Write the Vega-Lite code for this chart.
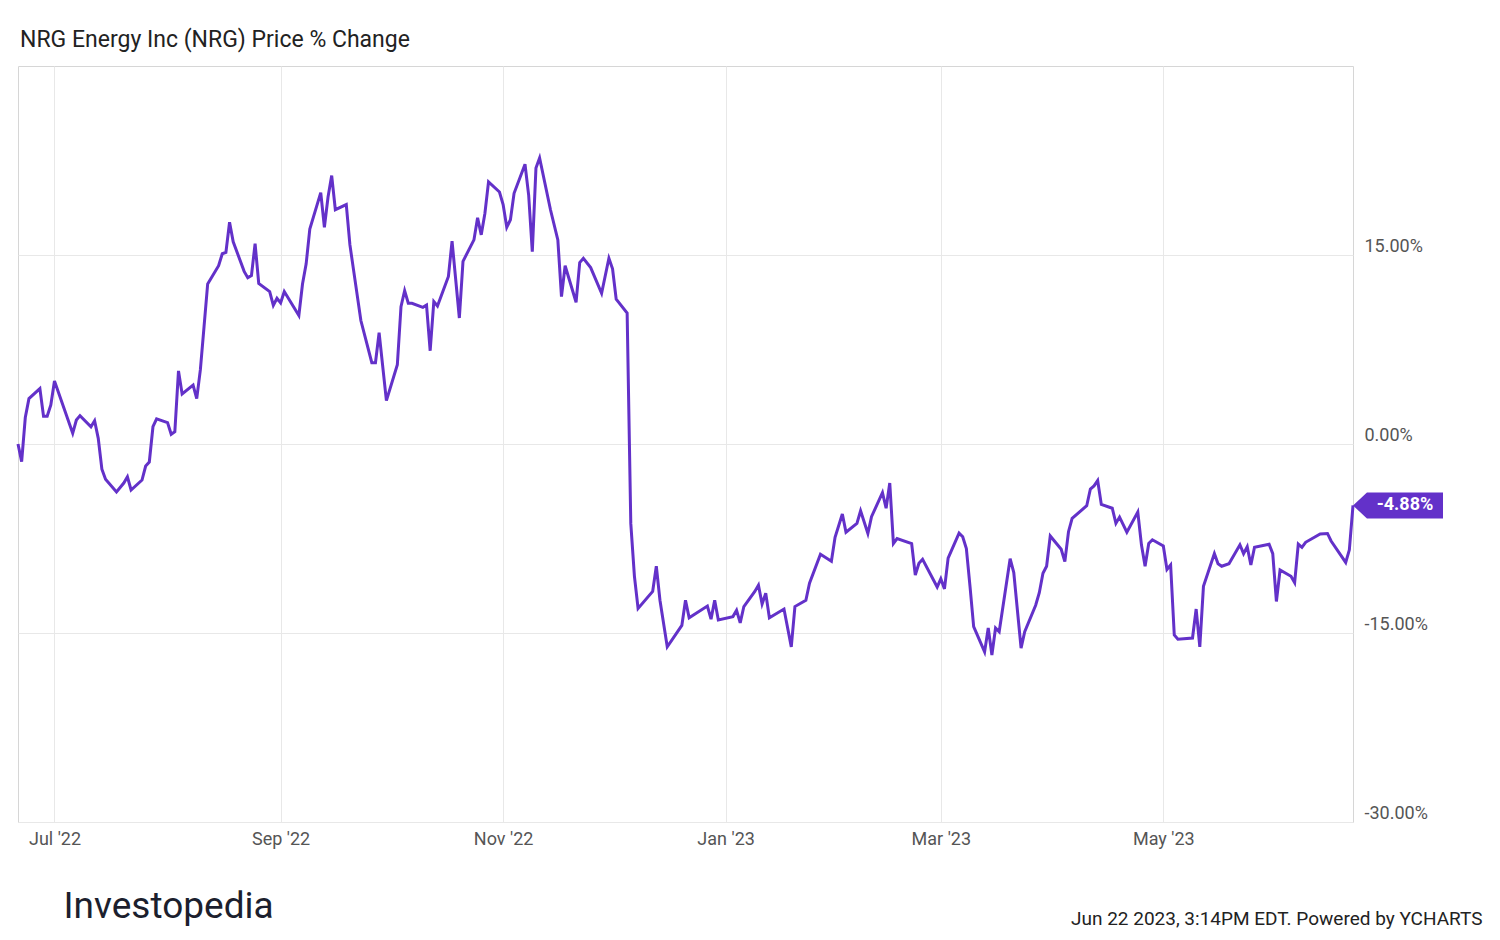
{
  "$schema": "https://vega.github.io/schema/vega-lite/v6.json",
  "autosize": {"type": "none"},
  "width": 1335,
  "height": 756,
  "padding": {"left": 18, "top": 66, "right": 147, "bottom": 118},
  "background": "white",
  "title": {
    "text": "NRG Energy Inc (NRG) Price % Change",
    "anchor": "start",
    "frame": "group",
    "offset": 14,
    "dx": 2,
    "font": "Roboto",
    "fontSize": 23,
    "fontWeight": "normal",
    "color": "#222222"
  },
  "data": {
    "values": [
      {"date": "2022-06-21", "pct": 0.0},
      {"date": "2022-06-22", "pct": -1.4},
      {"date": "2022-06-23", "pct": 2.1},
      {"date": "2022-06-24", "pct": 3.6},
      {"date": "2022-06-27", "pct": 4.4},
      {"date": "2022-06-28", "pct": 2.2},
      {"date": "2022-06-29", "pct": 2.2},
      {"date": "2022-06-30", "pct": 3.1},
      {"date": "2022-07-01", "pct": 5.0},
      {"date": "2022-07-06", "pct": 0.85},
      {"date": "2022-07-07", "pct": 1.9},
      {"date": "2022-07-08", "pct": 2.25},
      {"date": "2022-07-11", "pct": 1.37},
      {"date": "2022-07-12", "pct": 1.85},
      {"date": "2022-07-13", "pct": 0.45},
      {"date": "2022-07-14", "pct": -2.0},
      {"date": "2022-07-15", "pct": -2.8},
      {"date": "2022-07-18", "pct": -3.8},
      {"date": "2022-07-20", "pct": -3.1},
      {"date": "2022-07-21", "pct": -2.6},
      {"date": "2022-07-22", "pct": -3.65},
      {"date": "2022-07-25", "pct": -2.86},
      {"date": "2022-07-26", "pct": -1.75},
      {"date": "2022-07-27", "pct": -1.43},
      {"date": "2022-07-28", "pct": 1.37},
      {"date": "2022-07-29", "pct": 2.0},
      {"date": "2022-08-01", "pct": 1.7},
      {"date": "2022-08-02", "pct": 0.77},
      {"date": "2022-08-03", "pct": 0.98},
      {"date": "2022-08-04", "pct": 5.8},
      {"date": "2022-08-05", "pct": 3.97},
      {"date": "2022-08-08", "pct": 4.68},
      {"date": "2022-08-09", "pct": 3.6},
      {"date": "2022-08-10", "pct": 5.9},
      {"date": "2022-08-11", "pct": 9.3},
      {"date": "2022-08-12", "pct": 12.7},
      {"date": "2022-08-15", "pct": 14.15},
      {"date": "2022-08-16", "pct": 15.1},
      {"date": "2022-08-17", "pct": 15.2},
      {"date": "2022-08-18", "pct": 17.6},
      {"date": "2022-08-19", "pct": 16.05},
      {"date": "2022-08-22", "pct": 13.7},
      {"date": "2022-08-23", "pct": 13.2},
      {"date": "2022-08-24", "pct": 13.36},
      {"date": "2022-08-25", "pct": 15.9},
      {"date": "2022-08-26", "pct": 12.75},
      {"date": "2022-08-29", "pct": 12.1},
      {"date": "2022-08-30", "pct": 11.0},
      {"date": "2022-08-31", "pct": 11.56},
      {"date": "2022-09-01", "pct": 11.2},
      {"date": "2022-09-02", "pct": 12.1},
      {"date": "2022-09-06", "pct": 10.2},
      {"date": "2022-09-07", "pct": 12.7},
      {"date": "2022-09-08", "pct": 14.3},
      {"date": "2022-09-09", "pct": 17.06},
      {"date": "2022-09-12", "pct": 19.95},
      {"date": "2022-09-13", "pct": 17.2},
      {"date": "2022-09-14", "pct": 19.6},
      {"date": "2022-09-15", "pct": 21.3},
      {"date": "2022-09-16", "pct": 18.6},
      {"date": "2022-09-19", "pct": 19.0},
      {"date": "2022-09-20", "pct": 15.8},
      {"date": "2022-09-21", "pct": 13.8},
      {"date": "2022-09-23", "pct": 9.8},
      {"date": "2022-09-26", "pct": 6.45},
      {"date": "2022-09-27", "pct": 6.45},
      {"date": "2022-09-28", "pct": 8.83},
      {"date": "2022-09-30", "pct": 3.44},
      {"date": "2022-10-03", "pct": 6.3},
      {"date": "2022-10-04", "pct": 10.9},
      {"date": "2022-10-05", "pct": 12.17},
      {"date": "2022-10-06", "pct": 11.17},
      {"date": "2022-10-07", "pct": 11.17},
      {"date": "2022-10-10", "pct": 10.85},
      {"date": "2022-10-11", "pct": 11.03},
      {"date": "2022-10-12", "pct": 7.4},
      {"date": "2022-10-13", "pct": 11.3},
      {"date": "2022-10-14", "pct": 10.95},
      {"date": "2022-10-17", "pct": 13.3},
      {"date": "2022-10-18", "pct": 16.1},
      {"date": "2022-10-20", "pct": 10.0},
      {"date": "2022-10-21", "pct": 14.5},
      {"date": "2022-10-24", "pct": 16.2},
      {"date": "2022-10-25", "pct": 17.96},
      {"date": "2022-10-26", "pct": 16.6},
      {"date": "2022-10-27", "pct": 18.3},
      {"date": "2022-10-28", "pct": 20.8},
      {"date": "2022-10-31", "pct": 20.0},
      {"date": "2022-11-01", "pct": 19.0},
      {"date": "2022-11-02", "pct": 17.2},
      {"date": "2022-11-03", "pct": 17.8},
      {"date": "2022-11-04", "pct": 19.9},
      {"date": "2022-11-07", "pct": 22.2},
      {"date": "2022-11-08", "pct": 19.76},
      {"date": "2022-11-09", "pct": 15.26},
      {"date": "2022-11-10", "pct": 21.9},
      {"date": "2022-11-11", "pct": 22.7},
      {"date": "2022-11-14", "pct": 18.57},
      {"date": "2022-11-16", "pct": 16.2},
      {"date": "2022-11-17", "pct": 11.7},
      {"date": "2022-11-18", "pct": 14.15},
      {"date": "2022-11-21", "pct": 11.25},
      {"date": "2022-11-22", "pct": 14.4},
      {"date": "2022-11-23", "pct": 14.74},
      {"date": "2022-11-25", "pct": 14.0},
      {"date": "2022-11-28", "pct": 11.96},
      {"date": "2022-11-30", "pct": 14.74},
      {"date": "2022-12-01", "pct": 13.9},
      {"date": "2022-12-02", "pct": 11.5},
      {"date": "2022-12-05", "pct": 10.4},
      {"date": "2022-12-06", "pct": -6.3},
      {"date": "2022-12-07", "pct": -10.5},
      {"date": "2022-12-08", "pct": -13.05},
      {"date": "2022-12-12", "pct": -11.7},
      {"date": "2022-12-13", "pct": -9.7},
      {"date": "2022-12-14", "pct": -12.4},
      {"date": "2022-12-16", "pct": -16.1},
      {"date": "2022-12-20", "pct": -14.4},
      {"date": "2022-12-21", "pct": -12.4},
      {"date": "2022-12-22", "pct": -13.8},
      {"date": "2022-12-27", "pct": -12.86},
      {"date": "2022-12-28", "pct": -13.9},
      {"date": "2022-12-29", "pct": -12.4},
      {"date": "2022-12-30", "pct": -13.97},
      {"date": "2023-01-03", "pct": -13.7},
      {"date": "2023-01-04", "pct": -13.2},
      {"date": "2023-01-05", "pct": -14.2},
      {"date": "2023-01-06", "pct": -12.9},
      {"date": "2023-01-09", "pct": -11.7},
      {"date": "2023-01-10", "pct": -11.2},
      {"date": "2023-01-11", "pct": -12.7},
      {"date": "2023-01-12", "pct": -11.85},
      {"date": "2023-01-13", "pct": -13.8},
      {"date": "2023-01-17", "pct": -13.1},
      {"date": "2023-01-19", "pct": -16.1},
      {"date": "2023-01-20", "pct": -12.9},
      {"date": "2023-01-23", "pct": -12.4},
      {"date": "2023-01-24", "pct": -11.05},
      {"date": "2023-01-27", "pct": -8.75},
      {"date": "2023-01-30", "pct": -9.3},
      {"date": "2023-01-31", "pct": -7.4},
      {"date": "2023-02-02", "pct": -5.56},
      {"date": "2023-02-03", "pct": -7.0},
      {"date": "2023-02-06", "pct": -6.3},
      {"date": "2023-02-07", "pct": -5.3},
      {"date": "2023-02-09", "pct": -7.1},
      {"date": "2023-02-10", "pct": -5.77},
      {"date": "2023-02-13", "pct": -3.86},
      {"date": "2023-02-14", "pct": -5.1},
      {"date": "2023-02-15", "pct": -3.1},
      {"date": "2023-02-16", "pct": -7.9},
      {"date": "2023-02-17", "pct": -7.5},
      {"date": "2023-02-21", "pct": -7.9},
      {"date": "2023-02-22", "pct": -10.4},
      {"date": "2023-02-23", "pct": -9.47},
      {"date": "2023-02-24", "pct": -9.15},
      {"date": "2023-02-28", "pct": -11.35},
      {"date": "2023-03-01", "pct": -10.7},
      {"date": "2023-03-02", "pct": -11.5},
      {"date": "2023-03-03", "pct": -9.05},
      {"date": "2023-03-06", "pct": -7.07},
      {"date": "2023-03-07", "pct": -7.36},
      {"date": "2023-03-08", "pct": -8.3},
      {"date": "2023-03-09", "pct": -11.3},
      {"date": "2023-03-10", "pct": -14.5},
      {"date": "2023-03-13", "pct": -16.5},
      {"date": "2023-03-14", "pct": -14.6},
      {"date": "2023-03-15", "pct": -16.75},
      {"date": "2023-03-16", "pct": -14.6},
      {"date": "2023-03-17", "pct": -14.9},
      {"date": "2023-03-20", "pct": -9.1},
      {"date": "2023-03-21", "pct": -10.2},
      {"date": "2023-03-23", "pct": -16.2},
      {"date": "2023-03-24", "pct": -14.9},
      {"date": "2023-03-27", "pct": -12.8},
      {"date": "2023-03-28", "pct": -11.8},
      {"date": "2023-03-29", "pct": -10.26},
      {"date": "2023-03-30", "pct": -9.7},
      {"date": "2023-03-31", "pct": -7.3},
      {"date": "2023-04-03", "pct": -8.36},
      {"date": "2023-04-04", "pct": -9.34},
      {"date": "2023-04-05", "pct": -6.96},
      {"date": "2023-04-06", "pct": -5.9},
      {"date": "2023-04-10", "pct": -4.9},
      {"date": "2023-04-11", "pct": -3.57},
      {"date": "2023-04-12", "pct": -3.33},
      {"date": "2023-04-13", "pct": -2.9},
      {"date": "2023-04-14", "pct": -4.8},
      {"date": "2023-04-17", "pct": -5.1},
      {"date": "2023-04-18", "pct": -6.3},
      {"date": "2023-04-19", "pct": -5.8},
      {"date": "2023-04-21", "pct": -7.0},
      {"date": "2023-04-24", "pct": -5.4},
      {"date": "2023-04-25", "pct": -8.0},
      {"date": "2023-04-26", "pct": -9.7},
      {"date": "2023-04-27", "pct": -7.9},
      {"date": "2023-04-28", "pct": -7.6},
      {"date": "2023-05-01", "pct": -8.1},
      {"date": "2023-05-02", "pct": -9.95},
      {"date": "2023-05-03", "pct": -9.6},
      {"date": "2023-05-04", "pct": -15.16},
      {"date": "2023-05-05", "pct": -15.5},
      {"date": "2023-05-09", "pct": -15.4},
      {"date": "2023-05-10", "pct": -13.1},
      {"date": "2023-05-11", "pct": -16.1},
      {"date": "2023-05-12", "pct": -11.3},
      {"date": "2023-05-15", "pct": -8.7},
      {"date": "2023-05-16", "pct": -9.5},
      {"date": "2023-05-17", "pct": -9.7},
      {"date": "2023-05-19", "pct": -9.5},
      {"date": "2023-05-22", "pct": -8.0},
      {"date": "2023-05-23", "pct": -8.7},
      {"date": "2023-05-24", "pct": -8.15},
      {"date": "2023-05-25", "pct": -9.6},
      {"date": "2023-05-26", "pct": -8.2},
      {"date": "2023-05-30", "pct": -7.96},
      {"date": "2023-05-31", "pct": -8.7},
      {"date": "2023-06-01", "pct": -12.5},
      {"date": "2023-06-02", "pct": -10.0},
      {"date": "2023-06-05", "pct": -10.5},
      {"date": "2023-06-06", "pct": -11.0},
      {"date": "2023-06-07", "pct": -7.94},
      {"date": "2023-06-08", "pct": -8.2},
      {"date": "2023-06-09", "pct": -7.8},
      {"date": "2023-06-13", "pct": -7.14},
      {"date": "2023-06-15", "pct": -7.1},
      {"date": "2023-06-16", "pct": -7.7},
      {"date": "2023-06-20", "pct": -9.4},
      {"date": "2023-06-21", "pct": -8.4},
      {"date": "2023-06-22", "pct": -4.88}
    ]
  },
  "encoding": {
    "x": {
      "field": "date",
      "type": "temporal",
      "scale": {"type": "utc", "domain": ["2022-06-21", "2023-06-22"], "nice": false},
      "axis": {
        "values": [
          {"year": 2022, "month": 7, "date": 1, "utc": true},
          {"year": 2022, "month": 9, "date": 1, "utc": true},
          {"year": 2022, "month": 11, "date": 1, "utc": true},
          {"year": 2023, "month": 1, "date": 1, "utc": true},
          {"year": 2023, "month": 3, "date": 1, "utc": true},
          {"year": 2023, "month": 5, "date": 1, "utc": true}
        ],
        "format": "%b '%y",
        "domain": false,
        "ticks": false,
        "labelPadding": 8,
        "labelFont": "Roboto",
        "labelFontSize": 18,
        "labelColor": "#555555",
        "gridColor": "#e8e8e8",
        "title": "Jun 22 2023, 3:14PM EDT. Powered by YCHARTS",
        "titleFont": "Roboto",
        "titleFontSize": 19,
        "titleFontWeight": "normal",
        "titleColor": "#222222",
        "titleAlign": "right",
        "titleBaseline": "middle",
        "titleAnchor": "end",
        "titleX": 1464,
        "titleY": 96
      }
    },
    "y": {
      "field": "pct",
      "type": "quantitative",
      "scale": {"domain": [-30, 30], "nice": false, "zero": false},
      "axis": {
        "orient": "right",
        "values": [-30, -15, 0, 15],
        "labelExpr": "(datum.value < 0 ? '-' : '') + format(abs(datum.value), '.2f') + '%'",
        "domain": false,
        "ticks": false,
        "labelPadding": 11,
        "labelOffset": -9,
        "labelFont": "Roboto",
        "labelFontSize": 18,
        "labelColor": "#555555",
        "gridColor": "#e8e8e8",
        "title": "Investopedia",
        "titleFont": "Roboto",
        "titleFontSize": 37,
        "titleFontWeight": "normal",
        "titleColor": "#1c1f2e",
        "titleAngle": 0,
        "titleAlign": "left",
        "titleBaseline": "middle",
        "titleX": -1290,
        "titleY": 840
      }
    }
  },
  "layer": [
    {
      "mark": {"type": "line", "color": "#6331c9", "strokeWidth": 3, "strokeJoin": "miter", "clip": false}
    },
    {
      "transform": [
        {"window": [{"op": "rank", "as": "r"}], "sort": [{"field": "date", "order": "descending"}]},
        {"filter": "datum.r == 1"}
      ],
      "mark": {
        "type": "point",
        "shape": "M0,0 L0.31,-0.29 L2,-0.29 L2,0.29 L0.31,0.29 Z",
        "size": 8100,
        "filled": true,
        "color": "#6331c9",
        "opacity": 1,
        "strokeWidth": 0
      }
    },
    {
      "transform": [
        {"window": [{"op": "rank", "as": "r"}], "sort": [{"field": "date", "order": "descending"}]},
        {"filter": "datum.r == 1"},
        {"calculate": "(datum.pct < 0 ? '-' : '') + format(abs(datum.pct), '.2f') + '%'", "as": "label"}
      ],
      "mark": {
        "type": "text",
        "dx": 52,
        "align": "center",
        "baseline": "middle",
        "font": "Roboto",
        "fontSize": 18,
        "fontWeight": "bold",
        "color": "white"
      },
      "encoding": {"text": {"field": "label"}}
    }
  ],
  "config": {
    "view": {"stroke": "#d6d6d6", "strokeWidth": 1}
  }
}
